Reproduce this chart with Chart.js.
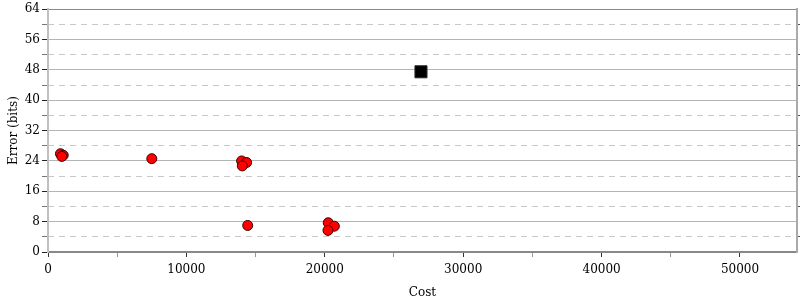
<!DOCTYPE html>
<html>
<head>
<meta charset="utf-8">
<script src="https://cdn.jsdelivr.net/npm/chart.js@4.4.1/dist/chart.umd.min.js"></script>
<style>
  html, body { margin: 0; padding: 0; background: #fff; overflow: hidden; }
  #wrap { width: 800px; height: 300px; }
</style>
</head>
<body>
<div id="wrap"><canvas id="errChart"></canvas></div>
<script>
/* =========================
   DATA
========================= */

const redCost  = [900, 1100, 1000, 7500, 13990, 14350, 14040, 14430, 20250, 20690, 20230];
const redError = [25.9, 25.5, 25.2, 24.6, 24.0, 23.6, 22.7, 7.0, 7.7, 6.8, 5.7];

const blackCost  = [26950];
const blackError = [47.5];

const xTicks = [0, 5000, 10000, 15000, 20000, 25000, 30000, 35000, 40000, 45000, 50000];
const yMajor = [0, 8, 16, 24, 32, 40, 48, 56, 64];
const yMinor = [4, 12, 20, 28, 36, 44, 52, 60];

const toPoints = (xs, ys) => xs.map((x, i) => ({ x, y: ys[i] }));

/* =========================
   CHART
========================= */

const font = { family: "'DejaVu Serif', serif", size: 12 };
Chart.defaults.font.family = font.family;
Chart.defaults.color = "#000";

new Chart(document.getElementById("errChart"), {
  type: "scatter",
  data: {
    datasets: [
      {
        data: toPoints(redCost, redError),
        backgroundColor: "#ff0000",
        borderColor: "#3a0000",
        borderWidth: 1,
        pointRadius: 5,
        pointHoverRadius: 5
      },
      {
        data: toPoints(blackCost, blackError),
        pointStyle: "rect",
        backgroundColor: "#000",
        borderColor: "#222",
        borderWidth: 1,
        pointRadius: 8.5,
        pointHoverRadius: 8.5
      }
    ]
  },
  options: {
    responsive: true,
    maintainAspectRatio: false,
    animation: false,
    layout: { autoPadding: false, padding: { top: 8, right: 0, left: 0, bottom: 0 } },
    plugins: {
      legend: { display: false },
      tooltip: { enabled: false }
    },
    scales: {
      x: {
        type: "linear",
        min: 0,
        max: 54120,
        afterBuildTicks: s => { s.ticks = xTicks.map(v => ({ value: v })); },
        afterFit: s => { s.height = 48; s.paddingRight = 0; s.paddingLeft = 0; },
        ticks: {
          font,
          padding: 6,
          maxRotation: 0,
          autoSkip: false,
          callback: v => (v % 10000 === 0 ? String(v) : "")
        },
        grid: {
          drawOnChartArea: false,
          tickLength: 5,
          tickColor: c => (c.tick && c.tick.value % 10000 === 0 ? "#333" : "#999")
        },
        border: { color: "#888", width: 2 },
        title: {
          display: true,
          text: "Cost",
          font,
          padding: { top: 8, bottom: 0 }
        }
      },
      y: {
        min: 0,
        max: 64,
        afterBuildTicks: s => { s.ticks = yMajor.concat(yMinor).sort((a, b) => a - b).map(v => ({ value: v })); },
        afterFit: s => { s.width = 48; },
        ticks: {
          font,
          padding: 2,
          autoSkip: false,
          callback: v => (v % 8 === 0 ? String(v) : "")
        },
        grid: {
          tickLength: 6,
          color: c => {
            if (!c.tick) return "#b4b4b4";
            if (c.tick.value === 64) return "#8a8a8a";
            return c.tick.value % 8 === 0 ? "#b4b4b4" : "rgba(0,0,0,0)";
          },
          tickColor: c => (c.tick && c.tick.value % 8 === 0 ? "#222" : "#777")
        },
        border: { color: "#c0c0c0", width: 2 },
        title: {
          display: true,
          text: "Error (bits)",
          font,
          padding: { top: 7, bottom: 2 }
        }
      },
      yMinor: {
        position: "right",
        min: 0,
        max: 64,
        afterBuildTicks: s => { s.ticks = yMinor.map(v => ({ value: v })); },
        afterFit: s => { s.width = 3; },
        ticks: { display: false },
        grid: {
          color: "#c8c8c8",
          tickLength: 3,
          tickColor: "#555"
        },
        border: { color: "#aaa", width: 2, dash: [6, 5] }
      }
    }
  }
});
</script>
</body>
</html>
